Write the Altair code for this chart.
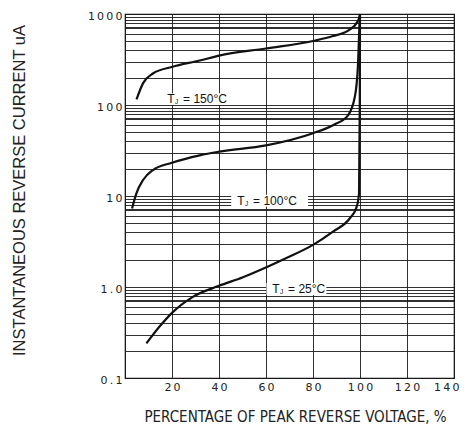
import altair as alt
import pandas as pd

# ---- data ----
x_150 = [4.9, 7.7, 11.9, 20, 31.8, 40, 60, 80, 88.5, 95.6, 98.5, 99.9, 100]
y_150 = [115, 174, 222, 262, 308, 349, 418, 505, 572, 673, 794, 960, 1000]

x_100 = [3.0, 4.85, 7.7, 11.9, 20, 31.8, 40, 60, 80, 88.5, 94.9, 97.8, 99.1, 99.9, 100]
y_100 = [7.3, 10.7, 15, 19.3, 23.2, 28, 30.7, 36, 49, 60, 77, 123, 264, 900, 1000]

x_25 = [9.1, 14.8, 20, 28.9, 40, 50.2, 60.2, 68.7, 80, 88.5, 95.6, 98.5, 99.6, 99.9, 100]
y_25 = [0.24, 0.37, 0.52, 0.78, 1.03, 1.28, 1.65, 2.08, 2.9, 4.06, 5.66, 7.5, 10.7, 100, 1000]

series = ["150", "100", "25"]

x_ticks = [0, 20, 40, 60, 80, 100, 120, 140]
y_major = [0.1, 1, 10, 100, 1000]
y_major_labels = ["0.1", "1.0", "10", "100", "1000"]
y_minor_factors = [2, 3, 4, 5, 6, 7, 7.25, 8, 8.5, 9.3]

label_temps = ["150", "100", "25"]
label_x = [24.7, 54.5, 69.4]
label_y = [116, 8.8, 0.944]
box_x0 = [16, 45.2, 60.2]
box_x1 = [45.5, 77.9, 85.7]
box_y0 = [100, 7.6, 0.817]
box_y1 = [135, 10.3, 1.11]

x_title = "PERCENTAGE OF PEAK REVERSE VOLTAGE, %"
y_title = "INSTANTANEOUS REVERSE CURRENT uA"

# ---- tables ----
rows = []
for name, xs, ys in zip(series, [x_150, x_100, x_25], [y_150, y_100, y_25]):
    for a, b in zip(xs, ys):
        rows.append({"x": a, "y": b, "series": name})
curves = pd.DataFrame(rows)

labels = pd.DataFrame({
    "x": label_x, "y": label_y,
    "main": ["= " + t + "\u00b0C" for t in label_temps],
})
boxes = pd.DataFrame({"x": box_x0, "x2": box_x1, "y": box_y0, "y2": box_y1})

y_grid = sorted(set(
    [round(d * k, 6) for d in [0.1, 1, 10, 100] for k in y_minor_factors] + y_major
))

SP = "\u2009"
maj = "[" + ",".join(str(v) for v in y_major) + "]"
lab = "[" + ",".join("'" + s + "'" for s in y_major_labels) + "]"
y_label_expr = (
    f"indexof({maj}, datum.value) >= 0 ? "
    f"join(split({lab}[indexof({maj}, datum.value)], ''), '{SP}') : ''"
)
x_label_expr = f"datum.value == 0 ? '' : join(split(datum.label, ''), '{SP}')"

x_enc = alt.X(
    "x:Q",
    scale=alt.Scale(domain=[0, 140], nice=False, zero=False),
    axis=alt.Axis(
        values=x_ticks, labelExpr=x_label_expr, title=x_title,
        titleX=170, titleY=38, titleBaseline="middle", titleAlign="center",
        titleFont="DejaVu Sans Condensed", titleFontSize=15,
        titleFontWeight="normal", titleColor="#222",
        labelPadding=3, labelFlush=True, labelFlushOffset=5,
        labelOverlap=False, labelBound=False,
    ),
)
y_enc = alt.Y(
    "y:Q",
    scale=alt.Scale(type="log", domain=[0.1, 1000], nice=False),
    axis=alt.Axis(
        values=y_grid, labelExpr=y_label_expr, title=y_title,
        titleX=-106, titleY=176, titleAngle=-90, titleBaseline="middle",
        titleAlign="center", titleFont="Liberation Sans", titleFontSize=16.5,
        titleFontWeight="normal", titleColor="#222",
        labelPadding=3, labelOffset=2, labelOverlap=False, labelBound=False,
        labelFlush=False,
    ),
)

lines = alt.Chart(curves).mark_line(
    color="#111", strokeWidth=2.2, interpolate="monotone"
).encode(x=x_enc, y=y_enc, detail="series:N")

rects = alt.Chart(boxes).mark_rect(color="white").encode(
    x=x_enc, x2="x2:Q", y=y_enc, y2="y2:Q"
)

txt_font = "Liberation Sans"
main_txt = alt.Chart(labels).mark_text(
    align="left", baseline="middle", font=txt_font, fontSize=12, color="#111"
).encode(x=x_enc, y=y_enc, text="main:N")
t_txt = alt.Chart(labels).mark_text(
    align="right", baseline="middle", font=txt_font, fontSize=12, color="#111",
    dx=-8.5
).encode(x=x_enc, y=y_enc, text=alt.value("T"))
j_txt = alt.Chart(labels).mark_text(
    align="left", baseline="middle", font=txt_font, fontSize=6.5, color="#111",
    dx=-8, dy=3
).encode(x=x_enc, y=y_enc, text=alt.value("J"))

chart = alt.layer(lines, rects, t_txt, j_txt, main_txt).properties(
    width=329, height=364,
    autosize=alt.AutoSizeParams(type="none"),
    padding={"left": 117, "top": 6, "right": 6, "bottom": 48},
).configure_view(
    stroke="#111", strokeWidth=1.2
).configure_axis(
    grid=True, gridColor="#1a1a1a", gridWidth=0.9, gridOpacity=1,
    ticks=False, domain=False,
    labelFont="DejaVu Sans", labelFontSize=11, labelColor="#222",
)

chart.save("out.html", embed_options={"renderer": "svg", "actions": False})
